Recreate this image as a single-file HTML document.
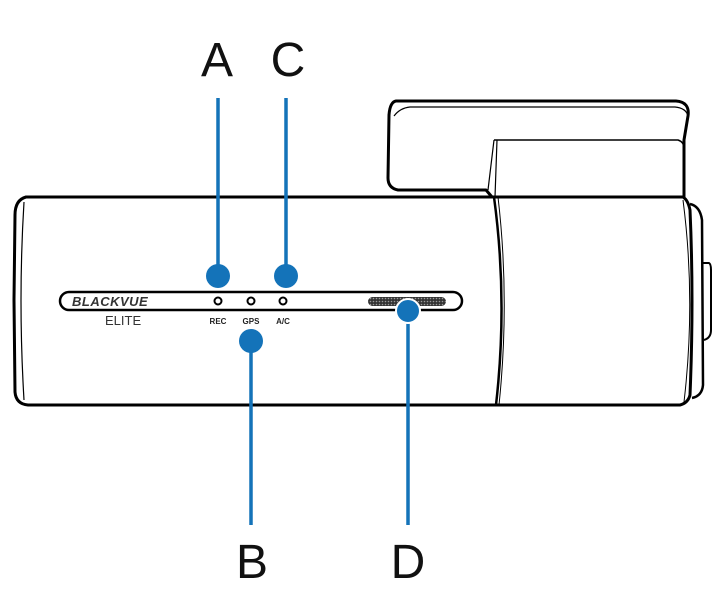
<!DOCTYPE html>
<html><head><style>body{margin:0;background:#fff}svg{display:block}</style></head><body>
<svg width="721" height="604" viewBox="0 0 721 604" xmlns="http://www.w3.org/2000/svg">
<defs><pattern id="g" width="3" height="3" patternUnits="userSpaceOnUse"><rect width="3" height="3" fill="#333"/><circle cx="1.5" cy="1.5" r="0.8" fill="#999"/></pattern></defs>
<g fill="none" stroke="#000" stroke-linejoin="round">
<!-- bracket -->
<path d="M396 101 L676 101 Q690 102 688 116 L684 140 L684 197 L492 197 L486 190 L398 190 Q388 188 388 178 L389 115 Q390 102 396 101 Z" stroke-width="3" fill="#fff"/>
<path d="M394 116 Q400 108 410 107 L675 107 Q686 108 688 116" stroke-width="1.2"/>
<path d="M494 140 L678 140 Q684 142 684 148" stroke-width="1.5"/>
<path d="M494 140 L488 190 M497 140 L495 197" stroke-width="1.2"/>
<!-- main body -->
<path d="M500 197 L26 197 Q15 200 15 215 L14 300 L15 392 Q16 404 28 405 L500 405" stroke-width="3" fill="#fff"/>
<path d="M24 202 Q18 300 24 400" stroke-width="1.2"/>
<!-- right cylinder -->
<path d="M494 197 L683 197 Q688 200 690 210 Q694 300 690 395 Q688 403 680 405 L494 405" stroke-width="3" fill="#fff"/>
<path d="M494 197 Q508 300 496 405" stroke-width="2.5"/>
<path d="M498 197 Q510 300 499 405" stroke-width="1"/>
<path d="M683 200 Q696 300 684 402" stroke-width="1"/>
<path d="M690 204 Q700 206 702 220 L703 385 Q702 396 692 398" stroke-width="2.5"/>
<path d="M703 263 L709 263 Q711 264 711 270 L711 330 Q711 338 704 340" stroke-width="2"/>
<!-- strip -->
<rect x="60" y="292" width="402" height="18" rx="9" stroke-width="2.5" fill="#fff"/>
<rect x="368" y="297" width="78" height="9" rx="4.5" fill="url(#g)" stroke="none"/>
<circle cx="218" cy="301" r="3.5" stroke-width="2"/>
<circle cx="251" cy="301" r="3.5" stroke-width="2"/>
<circle cx="283" cy="301" r="3.5" stroke-width="2"/>
</g>
<g font-family="Liberation Sans, sans-serif" fill="#222">
<text x="72" y="306" font-size="13" font-style="italic" font-weight="bold" letter-spacing="0.5" fill="#333">BLACKVUE</text>
<text x="105" y="325" font-size="13" fill="#333">ELITE</text>
<text x="218" y="324" font-size="8" font-weight="bold" text-anchor="middle">REC</text>
<text x="251" y="324" font-size="8" font-weight="bold" text-anchor="middle">GPS</text>
<text x="283" y="324" font-size="8" font-weight="bold" text-anchor="middle">A/C</text>
<g font-size="48" text-anchor="middle" fill="#111">
<text x="217" y="76">A</text><text x="288" y="76">C</text>
<text x="252" y="578">B</text><text x="408" y="578">D</text></g>
</g>
<g stroke="#1473b9" stroke-width="3.5">
<line x1="218" y1="98" x2="218" y2="276"/><line x1="286" y1="98" x2="286" y2="276"/>
<line x1="251" y1="341" x2="251" y2="525"/><line x1="408" y1="311" x2="408" y2="525"/>
</g>
<g fill="#1473b9">
<circle cx="218" cy="276" r="12"/><circle cx="286" cy="276" r="12"/>
<circle cx="251" cy="341" r="12"/><circle cx="408" cy="311" r="12" stroke="#fff" stroke-width="2"/>
</g>
</svg>
</body></html>
